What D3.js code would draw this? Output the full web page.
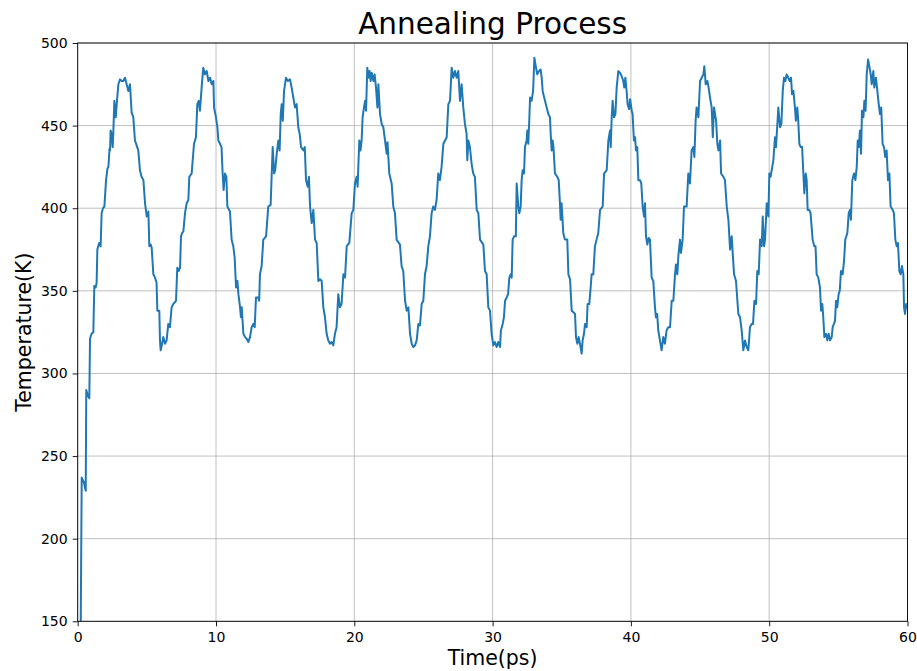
<!DOCTYPE html>
<html>
<head>
<meta charset="utf-8">
<script src="https://cdn.jsdelivr.net/npm/d3@7"></script>
<style>
  html, body { margin: 0; padding: 0; background: #ffffff; }
  svg { display: block; font-family: "DejaVu Sans", sans-serif; }
</style>
</head>
<body>
<svg id="chart" width="917" height="671"></svg>
<script>
// Simulation temperature trace during cyclic annealing
const timePs = [
  0.00, 0.22, 0.29, 0.45, 0.58, 0.62, 0.72, 0.84, 0.89, 1.00, 1.13, 1.20, 1.30, 1.37,
  1.42, 1.55, 1.66, 1.73, 1.83, 1.93, 2.05, 2.15, 2.22, 2.30, 2.34, 2.38, 2.45, 2.53, 2.58, 2.65,
  2.75, 2.82, 2.94, 3.06, 3.18, 3.30, 3.42, 3.54, 3.66, 3.78, 3.90, 4.02, 4.14, 4.26, 4.38, 4.50,
  4.62, 4.75, 4.87, 4.99, 5.11, 5.18, 5.28, 5.35, 5.47, 5.59, 5.70, 5.76, 5.90, 5.95, 6.00, 6.10,
  6.19, 6.31, 6.43, 6.55, 6.67, 6.79, 6.91, 7.11, 7.20, 7.30, 7.40, 7.47, 7.55, 7.64, 7.76, 7.88,
  8.00, 8.07, 8.15, 8.24, 8.41, 8.55, 8.65, 8.75, 8.84, 8.96, 9.08, 9.20, 9.33, 9.45, 9.57, 9.69,
  9.81, 9.86, 10.00, 10.10, 10.17, 10.29, 10.40, 10.48, 10.55, 10.65, 10.75, 10.82, 11.01, 11.13,
  11.25, 11.35, 11.45, 11.55, 11.62, 11.74, 11.80, 11.86, 11.98, 12.10, 12.22, 12.34, 12.46, 12.58,
  12.70, 12.80, 12.89, 13.05, 13.12, 13.18, 13.30, 13.42, 13.62, 13.78, 13.95, 14.03, 14.10, 14.20,
  14.28, 14.39, 14.51, 14.60, 14.68, 14.75, 14.83, 14.92, 15.06, 15.20, 15.35, 15.47, 15.59, 15.71,
  15.83, 15.95, 16.05, 16.15, 16.32, 16.42, 16.51, 16.63, 16.72, 16.80, 16.92, 17.04, 17.16, 17.28,
  17.40, 17.52, 17.64, 17.76, 17.88, 18.00, 18.12, 18.24, 18.36, 18.48, 18.60, 18.72, 18.84, 18.96,
  19.08, 19.21, 19.33, 19.45, 19.64, 19.81, 19.93, 20.05, 20.17, 20.24, 20.36, 20.45, 20.53, 20.60,
  20.70, 20.78, 20.85, 20.94, 21.01, 21.10, 21.18, 21.26, 21.38, 21.47, 21.57, 21.67, 21.74, 21.86,
  21.98, 22.10, 22.22, 22.34, 22.40, 22.53, 22.70, 22.82, 22.94, 23.06, 23.30, 23.42, 23.54, 23.67,
  23.79, 23.91, 24.03, 24.15, 24.27, 24.39, 24.51, 24.63, 24.75, 24.87, 24.99, 25.11, 25.23, 25.35,
  25.47, 25.59, 25.71, 25.83, 25.95, 26.07, 26.19, 26.31, 26.44, 26.56, 26.68, 26.80, 26.92, 27.04,
  27.16, 27.28, 27.40, 27.52, 27.64, 27.76, 27.88, 28.00, 28.12, 28.17, 28.25, 28.36, 28.48, 28.60,
  28.72, 28.85, 28.97, 29.09, 29.33, 29.45, 29.57, 29.69, 29.81, 29.93, 30.05, 30.17, 30.29, 30.41,
  30.54, 30.60, 30.73, 30.82, 30.90, 31.02, 31.12, 31.21, 31.31, 31.38, 31.45, 31.55, 31.68, 31.74,
  31.86, 31.93, 32.03, 32.10, 32.17, 32.27, 32.34, 32.46, 32.51, 32.58, 32.65, 32.71, 32.82, 32.93,
  33.02, 33.14, 33.23, 33.35, 33.47, 33.55, 33.62, 33.70, 33.79, 33.91, 34.03, 34.15, 34.20, 34.27,
  34.34, 34.40, 34.51, 34.68, 34.78, 34.87, 34.92, 34.99, 35.11, 35.23, 35.40, 35.48, 35.60, 35.72,
  35.84, 35.96, 36.03, 36.13, 36.22, 36.32, 36.44, 36.51, 36.61, 36.68, 36.80, 36.87, 36.99, 37.09,
  37.16, 37.28, 37.40, 37.52, 37.64, 37.77, 37.96, 38.06, 38.25, 38.37, 38.49, 38.54, 38.61, 38.68,
  38.78, 38.88, 38.97, 39.09, 39.21, 39.33, 39.45, 39.52, 39.60, 39.69, 39.76, 39.87, 39.94, 40.06,
  40.12, 40.22, 40.30, 40.37, 40.46, 40.54, 40.66, 40.75, 40.85, 40.95, 41.02, 41.09, 41.19, 41.28,
  41.38, 41.50, 41.62, 41.74, 41.81, 41.90, 41.98, 42.10, 42.22, 42.34, 42.46, 42.58, 42.70, 42.83,
  42.95, 43.07, 43.19, 43.26, 43.36, 43.43, 43.55, 43.62, 43.74, 43.84, 44.03, 44.15, 44.27, 44.39,
  44.51, 44.59, 44.68, 44.75, 44.88, 45.00, 45.12, 45.24, 45.31, 45.41, 45.53, 45.62, 45.72, 45.84,
  45.92, 46.01, 46.16, 46.25, 46.33, 46.45, 46.52, 46.69, 46.80, 46.93, 47.05, 47.17, 47.29, 47.36,
  47.46, 47.60, 47.70, 47.77, 47.89, 48.01, 48.13, 48.25, 48.37, 48.49, 48.61, 48.73, 48.83, 48.93,
  49.05, 49.14, 49.24, 49.34, 49.46, 49.53, 49.63, 49.70, 49.82, 49.94, 50.01, 50.10, 50.18, 50.30,
  50.42, 50.49, 50.59, 50.66, 50.78, 50.88, 50.98, 51.07, 51.17, 51.26, 51.38, 51.48, 51.58, 51.65,
  51.75, 51.86, 51.93, 52.03, 52.10, 52.18, 52.28, 52.38, 52.47, 52.54, 52.64, 52.71, 52.78, 52.90,
  52.99, 53.14, 53.26, 53.35, 53.43, 53.55, 53.67, 53.75, 53.84, 53.91, 53.99, 54.11, 54.20, 54.30,
  54.40, 54.52, 54.59, 54.68, 54.76, 54.83, 54.92, 55.02, 55.10, 55.19, 55.31, 55.41, 55.50, 55.65,
  55.75, 55.84, 55.91, 56.01, 56.13, 56.23, 56.33, 56.40, 56.48, 56.56, 56.64, 56.71, 56.81, 56.88,
  56.97, 57.05, 57.15, 57.24, 57.34, 57.41, 57.53, 57.60, 57.72, 57.82, 57.92, 58.01, 58.10, 58.20,
  58.30, 58.39, 58.49, 58.59, 58.69, 58.78, 58.93, 59.02, 59.12, 59.22, 59.31, 59.41, 59.51, 59.60,
  59.70, 59.75, 59.82, 59.90, 60.00
];

const tempK = [
  148, 150, 237, 234, 229, 290, 287, 285, 321, 324, 325, 353, 352, 355,
  375, 379, 377, 397, 400, 401, 417, 424, 425, 436, 435, 447, 445, 437, 447, 465,
  455, 463, 475, 478, 477, 477, 479, 475, 471, 475, 458, 455, 441, 438, 435, 423,
  419, 417, 403, 395, 398, 377, 378, 376, 360, 358, 355, 338, 338, 320, 314, 318,
  322, 318, 320, 330, 328, 340, 342, 344, 364, 362, 364, 383, 385, 386, 397, 403,
  405, 419, 420, 421, 439, 443, 463, 465, 459, 473, 485, 481, 483, 477, 479, 475,
  477, 461, 455, 449, 441, 439, 437, 421, 411, 421, 419, 401, 398, 381,
  377, 370, 352, 356, 348, 340, 334, 340, 324, 322, 321, 319, 322, 328,
  330, 328, 346, 346, 344, 360, 365, 381, 383, 401, 402, 421, 437, 421,
  423, 433, 441, 435, 457, 463, 453, 471, 479, 477, 478, 473, 467, 461,
  463, 449, 445, 437, 435, 437, 417, 413, 419, 401, 391, 399, 381, 379,
  356, 357, 356, 340, 334, 324, 320, 318, 319, 317, 324, 328, 348, 340,
  342, 360, 358, 377, 379, 397, 399, 415, 419, 413, 441, 435, 441, 455,
  461, 465, 459, 485, 479, 483, 477, 482, 477, 481, 473, 461, 475, 457,
  451, 449, 441, 433, 440, 421, 415, 401, 397, 381, 378, 365, 362, 344,
  338, 340, 324, 318, 316, 317, 320, 330, 329, 342, 344, 360, 365, 377,
  383, 397, 401, 399, 405, 421, 417, 425, 439, 441, 443, 463, 465, 485,
  479, 483, 479, 483, 465, 475, 461, 451, 445, 429, 441, 437, 427, 421,
  419, 399, 397, 381, 378, 362, 360, 340, 338, 324, 317, 319, 316, 319,
  316, 326, 330, 334, 344, 346, 348, 358, 360, 358, 381, 383, 383, 415,
  401, 397, 401, 417, 423, 421, 437, 441, 447, 439, 453, 467, 465, 471,
  491, 485, 481, 483, 484, 479, 471, 468, 465, 461, 457, 455, 445, 435,
  441, 437, 421, 419, 417, 403, 393, 403, 385, 381, 381, 360, 357, 338,
  337, 336, 322, 318, 322, 318, 312, 320, 324, 330, 328, 342, 342, 352,
  360, 360, 377, 381, 385, 399, 401, 421, 423, 441, 447, 437, 455, 465,
  455, 457, 473, 483, 482, 480, 477, 473, 479, 471, 463, 460, 466, 459,
  457, 441, 443, 435, 437, 417, 417, 415, 401, 395, 403, 383, 378, 382,
  381, 358, 356, 340, 334, 336, 326, 320, 314, 322, 318, 326, 328, 328,
  344, 344, 360, 366, 360, 371, 381, 373, 381, 401, 401, 421, 415, 435,
  437, 431, 453, 461, 455, 477, 479, 481, 486, 475, 477, 473, 467, 461,
  443, 461, 453, 439, 435, 441, 421, 419, 417, 401, 393, 375, 383, 373,
  360, 356, 344, 336, 334, 326, 314, 320, 316, 314, 328, 330, 330, 344,
  342, 362, 360, 381, 377, 395, 377, 381, 403, 395, 421, 419, 423, 429,
  443, 437, 451, 461, 449, 451, 471, 479, 477, 481, 479, 477, 479, 469,
  471, 461, 453, 461, 453, 439, 437, 437, 421, 409, 421, 417, 399, 399,
  397, 381, 377, 377, 360, 358, 352, 338, 342, 334, 322, 324, 320, 324,
  320, 322, 328, 330, 332, 344, 340, 348, 350, 362, 360, 368, 381, 385,
  397, 399, 393, 417, 421, 417, 425, 441, 437, 447, 433, 459, 455, 465,
  459, 481, 490, 486, 481, 475, 483, 473, 479, 471, 463, 457, 461, 439,
  437, 431, 435, 417, 421, 401, 399, 397, 381, 377, 379, 362, 360, 365,
  360, 340, 336, 342, 340
];

const xTicks = [0, 10, 20, 30, 40, 50, 60];
const yTicks = [150, 200, 250, 300, 350, 400, 450, 500];

const chartTitle = "Annealing Process";
const xLabel = "Time(ps)";
const yLabel = "Temperature(K)";

const margin = { left: 77.7, right: 917 - 907.5, top: 43, bottom: 671 - 621.3 };
const W = 917, H = 671;
const innerW = W - margin.left - margin.right;
const innerH = H - margin.top - margin.bottom;

const svg = d3.select("#chart");

const x = d3.scaleLinear().domain([0, 60]).range([margin.left, margin.left + innerW]);
const y = d3.scaleLinear().domain([150, 500]).range([margin.top + innerH, margin.top]);

// grid
const grid = svg.append("g").attr("class", "grid");
grid.selectAll("line.gx").data(xTicks).join("line")
  .attr("x1", d => x(d)).attr("x2", d => x(d))
  .attr("y1", y(150)).attr("y2", y(500))
  .attr("stroke", "#b0b0b0").attr("stroke-width", 0.8);
grid.selectAll("line.gy").data(yTicks).join("line")
  .attr("x1", x(0)).attr("x2", x(60))
  .attr("y1", d => y(d)).attr("y2", d => y(d))
  .attr("stroke", "#b0b0b0").attr("stroke-width", 0.8);

// clip region for the trace
svg.append("clipPath").attr("id", "plot-clip")
  .append("rect")
  .attr("x", x(0)).attr("y", y(500))
  .attr("width", x(60) - x(0)).attr("height", y(150) - y(500));

const points = timePs.map((t, i) => [t, tempK[i]]);
const line = d3.line().x(d => x(d[0])).y(d => y(d[1]));

svg.append("path")
  .datum(points)
  .attr("clip-path", "url(#plot-clip)")
  .attr("fill", "none")
  .attr("stroke", "#1f77b4")
  .attr("stroke-width", 2)
  .attr("stroke-linejoin", "round")
  .attr("stroke-linecap", "square")
  .attr("d", line);

// axes
const xAxis = d3.axisBottom(x).tickValues(xTicks).tickSize(5).tickPadding(6).tickFormat(d3.format("d"));
const yAxis = d3.axisLeft(y).tickValues(yTicks).tickSize(5).tickPadding(5).tickFormat(d3.format("d"));

const gx = svg.append("g").attr("transform", `translate(0,${y(150)})`).call(xAxis);
const gy = svg.append("g").attr("transform", `translate(${x(0)},0)`).call(yAxis);

[gx, gy].forEach(g => {
  g.select(".domain").remove();
  g.selectAll(".tick line").attr("stroke", "#000").attr("stroke-width", 0.9);
  g.selectAll(".tick text")
    .attr("fill", "#000")
    .style("font-family", "'DejaVu Sans', sans-serif")
    .style("font-size", "14px");
});

// spines
svg.append("rect")
  .attr("x", x(0)).attr("y", y(500))
  .attr("width", x(60) - x(0)).attr("height", y(150) - y(500))
  .attr("fill", "none").attr("stroke", "#000").attr("stroke-width", 0.9);

// title and labels
svg.append("text")
  .attr("x", (x(0) + x(60)) / 2).attr("y", 34)
  .attr("text-anchor", "middle")
  .style("font-size", "29.5px")
  .attr("fill", "#000")
  .text(chartTitle);

svg.append("text")
  .attr("x", (x(0) + x(60)) / 2).attr("y", 665)
  .attr("text-anchor", "middle")
  .style("font-size", "20.5px")
  .attr("fill", "#000")
  .text(xLabel);

svg.append("text")
  .attr("transform", `translate(30.5,${(y(150) + y(500)) / 2}) rotate(-90)`)
  .attr("text-anchor", "middle")
  .style("font-size", "20.5px")
  .attr("fill", "#000")
  .text(yLabel);
</script>
</body>
</html>
